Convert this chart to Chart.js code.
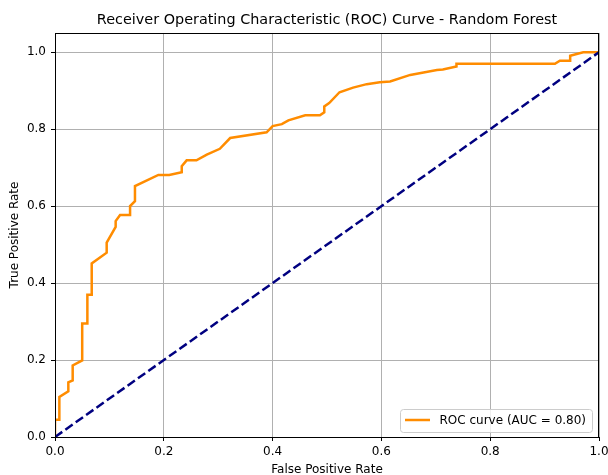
<!DOCTYPE html>
<html>
<head>
<meta charset="utf-8">
<script src="https://cdn.jsdelivr.net/npm/chart.js@4"></script>
<style>
  html, body { margin: 0; padding: 0; background: #fff; }
  canvas { display: block; }
</style>
</head>
<body>
<canvas id="c" width="608" height="475"></canvas>
<script>
// ---- data ----
const titleText = "Receiver Operating Characteristic (ROC) Curve - Random Forest";
const xLabel = "False Positive Rate";
const yLabel = "True Positive Rate";
const rocLabel = "ROC curve (AUC = 0.80)";
const tickValues = [0.0, 0.2, 0.4, 0.6, 0.8, 1.0];
const fpr = [0, 0, 0.008, 0.008, 0.0245, 0.0245, 0.0325, 0.0325, 0.050, 0.050,
  0.0595, 0.0595, 0.0675, 0.0675, 0.095, 0.095, 0.1115, 0.1115, 0.1196, 0.138,
  0.138, 0.147, 0.147, 0.190, 0.210, 0.233, 0.233, 0.242, 0.260, 0.279,
  0.303, 0.322, 0.389, 0.400, 0.417, 0.429, 0.460, 0.487, 0.495, 0.495,
  0.504, 0.523, 0.548, 0.573, 0.597, 0.616, 0.653, 0.702, 0.713, 0.738,
  0.738, 0.919, 0.928, 0.947, 0.947, 0.971, 1.0];
const tpr = [0, 0.045, 0.045, 0.104, 0.119, 0.142, 0.147, 0.186, 0.199, 0.295,
  0.295, 0.370, 0.370, 0.451, 0.479, 0.505, 0.546, 0.561, 0.577, 0.577,
  0.600, 0.613, 0.652, 0.681, 0.681, 0.688, 0.704, 0.719, 0.719, 0.734,
  0.749, 0.777, 0.792, 0.808, 0.813, 0.823, 0.836, 0.836, 0.844, 0.859,
  0.868, 0.896, 0.908, 0.917, 0.922, 0.924, 0.941, 0.954, 0.955, 0.963,
  0.970, 0.970, 0.978, 0.978, 0.991, 1.0, 1.0];
const diagX = [0, 1];
const diagY = [0, 1];

const FONT = "DejaVu Sans";

const frameAndLegend = {
  id: 'frameAndLegend',
  afterDatasetsDraw(chart) {
    const ctx = chart.ctx;
    const a = chart.chartArea;
    ctx.save();
    ctx.strokeStyle = '#000';
    ctx.lineWidth = 1;
    ctx.strokeRect(Math.round(a.left) + 0.5, Math.round(a.top) + 0.5,
                   Math.round(a.right - a.left) - 1, Math.round(a.bottom - a.top));
    // legend
    const bx = 400.5, by = 409.5, bw = 192, bh = 23, r = 3;
    ctx.beginPath();
    ctx.moveTo(bx + r, by);
    ctx.arcTo(bx + bw, by, bx + bw, by + bh, r);
    ctx.arcTo(bx + bw, by + bh, bx, by + bh, r);
    ctx.arcTo(bx, by + bh, bx, by, r);
    ctx.arcTo(bx, by, bx + bw, by, r);
    ctx.closePath();
    ctx.fillStyle = 'rgba(255,255,255,0.8)';
    ctx.fill();
    ctx.strokeStyle = '#cccccc';
    ctx.lineWidth = 1;
    ctx.stroke();
    const ds = chart.data.datasets[1];
    ctx.beginPath();
    ctx.moveTo(405, 420);
    ctx.lineTo(430, 420);
    ctx.strokeStyle = ds.borderColor;
    ctx.lineWidth = ds.borderWidth;
    ctx.stroke();
    ctx.fillStyle = '#000';
    ctx.font = '12px "' + FONT + '"';
    ctx.textBaseline = 'middle';
    ctx.textAlign = 'left';
    ctx.fillText(ds.label, 439.5, 421);
    ctx.restore();
  }
};

new Chart(document.getElementById('c'), {
  type: 'line',
  data: {
    datasets: [
      {
        label: 'chance',
        data: diagX.map((x, i) => ({ x: x, y: diagY[i] })),
        borderColor: '#000080',
        borderWidth: 2.5,
        borderDash: [8.9, 3.8],
        pointRadius: 0,
        fill: false,
        order: 0
      },
      {
        label: rocLabel,
        data: fpr.map((x, i) => ({ x: x, y: tpr[i] })),
        borderColor: '#ff8c00',
        borderWidth: 2.5,
        pointRadius: 0,
        fill: false,
        tension: 0,
        order: 1
      }
    ]
  },
  options: {
    responsive: false,
    animation: false,
    devicePixelRatio: 1,
    layout: { padding: { left: 0, right: 9, top: 0, bottom: 0 } },
    plugins: {
      legend: { display: false },
      tooltip: { enabled: false },
      title: {
        display: true,
        fullSize: false,
        text: titleText,
        color: '#000',
        font: { family: FONT, size: 14.4, weight: 'normal', lineHeight: 1.2 },
        padding: { top: 11.8, bottom: 3.9 }
      }
    },
    scales: {
      x: {
        type: 'linear',
        min: 0, max: 1,
        afterFit(s) { s.height = 38; s.paddingLeft = 0; s.paddingRight = 0; },
        afterBuildTicks(s) { s.ticks = tickValues.map(v => ({ value: v })); },
        ticks: {
          color: '#000',
          font: { family: FONT, size: 12 },
          padding: 4,
          maxRotation: 0,
          callback: v => Number(v).toFixed(1)
        },
        grid: { color: '#b0b0b0', lineWidth: 1, tickColor: '#000', tickLength: 4, drawTicks: true },
        border: { display: false },
        title: {
          display: true, text: xLabel, color: '#000',
          font: { family: FONT, size: 12, lineHeight: 1.2 },
          padding: { top: 0, bottom: -2 }
        }
      },
      y: {
        type: 'linear',
        min: 0, max: 1.05,
        afterFit(s) { s.width = 55; s.paddingTop = 0; s.paddingBottom = 0; },
        afterBuildTicks(s) { s.ticks = tickValues.map(v => ({ value: v })); },
        ticks: {
          color: '#000',
          font: { family: FONT, size: 12 },
          padding: 5,
          callback: v => Number(v).toFixed(1)
        },
        grid: { color: '#b0b0b0', lineWidth: 1, tickColor: '#000', tickLength: 4, drawTicks: true },
        border: { display: false },
        title: {
          display: true, text: yLabel, color: '#000',
          font: { family: FONT, size: 12, lineHeight: 1.2 },
          padding: { top: 7.3, bottom: 0 }
        }
      }
    }
  },
  plugins: [frameAndLegend]
});
</script>
</body>
</html>
